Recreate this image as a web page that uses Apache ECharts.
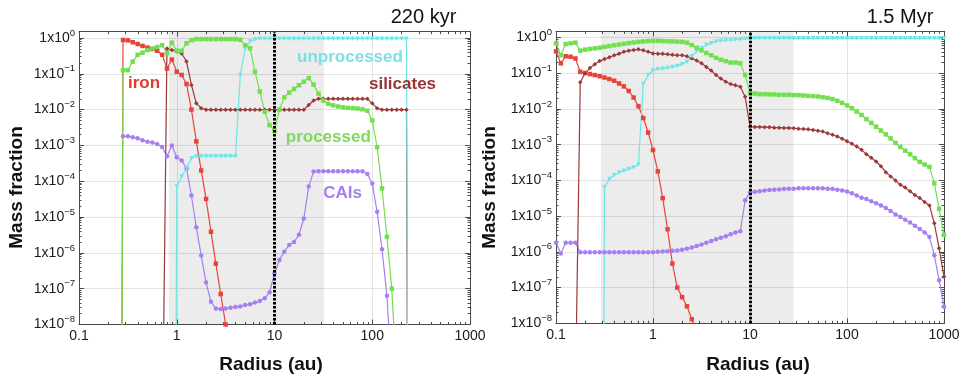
<!DOCTYPE html>
<html><head><meta charset="utf-8">
<script src="https://cdn.jsdelivr.net/npm/echarts@6/dist/echarts.min.js"></script>
<style>html,body{margin:0;padding:0;background:#fff}#c{width:963px;height:380px}</style>
</head><body><div id="c"></div>
<script>
// ---------------- LEFT PANEL (220 kyr) ----------------
const radiusL = [0.2512,0.2818,0.3162,0.3548,0.3981,0.4467,0.5012,0.5623,0.6310,0.7079,0.7943,0.8913,
 1.000,1.122,1.259,1.413,1.585,1.778,1.995,2.239,2.512,2.818,3.162,3.548,3.981,4.467,5.012,5.623,6.310,7.079,7.943,8.913,
 10.00,11.22,12.59,14.13,15.85,17.78,19.95,22.39,25.12,28.18,31.62,35.48,39.81,44.67,50.12,56.23,63.10,70.79,79.43,89.13,
 100.0,112.2,125.9,141.3,158.5,177.8,199.5,223.9,251.2,281.8];

const ironL = [1e-40,
 0.88,0.86,0.76,0.68,0.60,0.54,0.49,0.44,0.34,0.14,
 0.25,0.115,0.093,0.052,0.010,1.3e-3,2.0e-4,3.2e-5,3.9e-6,5.0e-7,
 7.1e-8,1.0e-8,1.3e-9];

const silicatesL = [null,null,null,null,null,null,null,null,null,
 1e-12,
 0.51,0.46,0.42,0.37,0.22,0.049,0.015,0.011,
 0.010,0.010,0.010,0.010,0.010,0.010,0.010,
 0.010,0.010,0.010,0.010,0.010,0.010,0.010,
 0.010,0.010,0.010,0.010,0.010,0.010,0.010,
 0.0135,0.018,
 0.020,0.020,0.020,0.020,0.020,0.020,0.020,0.020,0.020,0.020,0.020,
 0.015,0.011,
 0.010,0.010,0.010,0.010,0.010,0.010,
 1e-40];

const processedL = [1e-40,
 0.126,0.126,0.22,0.34,0.39,0.46,0.51,0.56,0.63,0.38,
 0.74,0.44,0.44,0.71,0.87,0.93,0.93,0.93,0.93,0.93,
 0.93,0.93,0.93,0.93,0.89,0.63,0.52,0.115,0.032,0.0087,
 0.0037,0.0025,0.010,0.022,0.030,0.038,0.048,0.060,0.076,0.050,
 0.028,0.018,0.0145,0.0132,0.0122,0.0116,0.0112,0.0110,0.0107,0.0102,
 0.0093,0.0050,8.9e-4,6.3e-5,2.8e-6,1.0e-7,3e-10];

const caisL = [null,
 1.8e-3,1.8e-3,1.7e-3,1.6e-3,1.4e-3,1.26e-3,1.2e-3,1.1e-3,9.1e-4,5.0e-4,
 1.0e-3,4.7e-4,3.8e-4,2.3e-4,4.0e-5,5.2e-6,8.5e-7,1.5e-7,4.3e-8,2.8e-8,
 2.7e-8,2.8e-8,2.95e-8,3.1e-8,3.2e-8,3.5e-8,3.7e-8,4.1e-8,4.5e-8,5.4e-8,
 8.0e-8,2.7e-7,6.3e-7,1.07e-6,1.66e-6,2.0e-6,3.2e-6,9.1e-6,7.1e-5,1.86e-4,
 1.9e-4,1.9e-4,1.9e-4,1.9e-4,1.9e-4,1.9e-4,1.9e-4,1.9e-4,1.9e-4,1.9e-4,
 1.6e-4,8.7e-5,1.4e-5,1.26e-6,6.3e-8,3e-10];

const unprocessedL = [null,null,null,null,null,null,null,null,null,null,null,
 1e-40,
 7.1e-5,1.35e-4,2.3e-4,4.4e-4,
 5.0e-4,5.0e-4,5.0e-4,5.0e-4,5.0e-4,5.0e-4,5.0e-4,5.0e-4,5.0e-4,
 0.093,0.50,0.80,0.91,
 0.955,0.955,0.955,0.955,0.955,0.955,0.955,0.955,0.955,0.955,
 0.955,0.955,0.955,0.955,0.955,0.955,0.955,0.955,0.955,0.955,
 0.955,0.955,0.955,0.955,0.955,0.955,0.955,0.955,0.955,0.955,0.955,
 1e-40];

// ---------------- RIGHT PANEL (1.5 Myr) ----------------
const radiusR = [0.1000,0.1122,0.1259,0.1413,0.1585,0.1778,0.1995,0.2239,0.2512,0.2818,0.3162,0.3548,0.3981,0.4467,0.5012,0.5623,0.6310,0.7079,0.7943,0.8913,
 1.000,1.122,1.259,1.413,1.585,1.778,1.995,2.239,2.512,2.818,3.162,3.548,3.981,4.467,5.012,5.623,6.310,7.079,7.943,8.913,
 10.00,11.22,12.59,14.13,15.85,17.78,19.95,22.39,25.12,28.18,31.62,35.48,39.81,44.67,50.12,56.23,63.10,70.79,79.43,89.13,
 100.0,112.2,125.9,141.3,158.5,177.8,199.5,223.9,251.2,281.8,316.2,354.8,398.1,446.7,501.2,562.3,631.0,707.9,794.3,891.3,
 1000];

const ironR = [0.41,0.19,0.30,0.29,0.26,0.11,0.102,0.095,0.089,0.083,
 0.076,0.069,0.062,0.052,0.043,0.032,0.021,0.012,5.6e-3,2.2e-3,
 7.1e-4,1.8e-4,3.2e-5,4.3e-6,4.7e-7,1.0e-7,5.4e-8,3.0e-8,1.3e-8,5e-9];

const silicatesR = [null,null,null,null,1e-10,
 0.056,0.10,0.14,0.18,0.22,
 0.25,0.28,0.32,0.35,0.40,0.43,0.45,0.47,0.44,0.40,
 0.36,0.355,0.35,0.34,0.33,0.32,0.32,0.30,0.26,0.23,
 0.19,0.15,0.12,0.089,0.071,0.058,0.050,0.046,0.042,0.022,
 3.2e-3,3.16e-3,3.16e-3,3.1e-3,3.1e-3,3.0e-3,3.0e-3,2.95e-3,2.95e-3,2.9e-3,
 2.8e-3,2.75e-3,2.7e-3,2.6e-3,2.45e-3,2.35e-3,2.1e-3,1.9e-3,1.7e-3,1.48e-3,
 1.26e-3,1.07e-3,8.9e-4,7.2e-4,5.4e-4,4.3e-4,3.4e-4,2.5e-4,1.7e-4,1.3e-4,
 1.0e-4,7.6e-5,6.3e-5,5.0e-5,3.9e-5,3.2e-5,2.5e-5,2.0e-5,6.3e-6,1.26e-6,
 2.0e-7];

const processedR = [0.69,0.32,0.66,0.69,0.72,0.43,0.46,0.48,0.50,0.52,
 0.55,0.58,0.61,0.64,0.67,0.70,0.73,0.76,0.78,0.80,
 0.81,0.81,0.80,0.79,0.78,0.77,0.76,0.72,0.62,0.52,
 0.44,0.37,0.32,0.27,0.24,0.22,0.20,0.20,0.19,0.09,
 0.0275,0.027,0.026,0.026,0.0257,0.0257,0.025,0.025,0.025,0.0245,
 0.0245,0.024,0.0234,0.0229,0.0224,0.0214,0.0204,0.019,0.017,0.0148,
 0.0126,0.0105,0.0085,0.0068,0.0052,0.0041,0.0032,0.0025,0.00195,0.0015,
 0.00112,8.7e-4,6.8e-4,5.4e-4,4.2e-4,3.3e-4,2.8e-4,2.4e-4,8.3e-5,1.6e-5,
 3.0e-6];

const unprocessedR = [null,null,null,null,null,null,null,null,null,1e-40,
 6.3e-5,1.1e-4,1.4e-4,1.66e-4,1.86e-4,2.1e-4,2.3e-4,2.8e-4,0.050,0.089,
 0.12,0.13,0.135,0.14,0.15,0.16,0.18,0.21,0.30,0.41,
 0.50,0.62,0.69,0.78,0.81,0.83,0.85,0.87,0.89,0.91,
 0.955,0.955,0.955,0.955,0.955,0.955,0.955,0.955,0.955,0.955,
 0.955,0.955,0.955,0.955,0.955,0.955,0.955,0.955,0.955,0.955,
 0.955,0.955,0.955,0.955,0.955,0.955,0.955,0.955,0.955,0.955,
 0.955,0.955,0.955,0.955,0.955,0.955,0.955,0.955,0.955,0.955,
 0.955];

const caisR = [1.8e-6,9.0e-7,1.8e-6,1.8e-6,1.8e-6,9.7e-7,9.7e-7,9.7e-7,9.7e-7,9.7e-7,
 9.7e-7,9.7e-7,9.7e-7,9.7e-7,9.7e-7,9.7e-7,9.7e-7,9.7e-7,9.7e-7,9.7e-7,
 9.8e-7,1.0e-6,1.02e-6,1.04e-6,1.07e-6,1.1e-6,1.15e-6,1.23e-6,1.32e-6,1.45e-6,
 1.6e-6,1.8e-6,2.0e-6,2.25e-6,2.5e-6,2.75e-6,3.1e-6,3.5e-6,3.8e-6,2.8e-5,
 4.6e-5,4.8e-5,5.0e-5,5.2e-5,5.4e-5,5.5e-5,5.6e-5,5.75e-5,5.9e-5,5.9e-5,
 6.0e-5,6.0e-5,6.0e-5,6.0e-5,6.0e-5,6.0e-5,5.9e-5,5.75e-5,5.5e-5,5.25e-5,
 4.9e-5,4.4e-5,3.8e-5,3.3e-5,3.0e-5,2.6e-5,2.3e-5,2.0e-5,1.7e-5,1.4e-5,
 1.12e-5,9.5e-6,7.9e-6,6.6e-6,5.4e-6,4.4e-6,3.5e-6,2.6e-6,8.1e-7,1.6e-7,
 2.9e-8];

// shaded regions and divider (au)
const bandL = [0.83, 32];
const bandR = [0.29, 28];
const dividerAU = 10;

// tick labels
const xTickText = {'-1':'0.1','0':'1','1':'10','2':'100','3':'1000'};
const minorX = [0.2,0.3,0.4,0.5,0.6,0.7,0.8,0.9,2,3,4,5,6,7,8,9,20,30,40,50,60,70,80,90,200,300,400,500,600,700,800,900];
const minorY = [];
for (let d = -8; d <= -1; d++) for (let m = 2; m <= 9; m++) minorY.push(m * Math.pow(10, d));

// ---------------- chart ----------------
const FONT = '"Liberation Sans", Arial, Helvetica, sans-serif';
const FRAME = '#4a4a4a';
const COL = {iron:'#e8433a', sil:'#9c3838', proc:'#72df4e', unproc:'#6fe6e6', cai:'#a77ff0'};

function isDecade(v){ const e = Math.log10(v); return Math.abs(e - Math.round(e)) < 1e-6; }
function xfmt(v){ if (!isDecade(v)) return ''; return xTickText[String(Math.round(Math.log10(v)))] || ''; }
function yfmt(v){ if (!isDecade(v)) return ''; const e = Math.round(Math.log10(v)); return '1x10{s|' + (e < 0 ? '\u2212' + (-e) : String(Math.abs(e))) + '}'; }

function axis(dim, gi, min, max, pos, labels, minor){
  const ax = {
    type:'log', logBase:10, gridIndex:gi, min:min, max:max, position:pos,
    splitNumber: dim === 'x' ? 4 : 8,
    axisLine:{show:!minor, onZero:false, lineStyle:{color:FRAME, width:1}},
    axisTick:{show:true, inside:true, length: minor ? 2.5 : 5, lineStyle:{color:FRAME, width:1}},
    axisLabel:{show:false},
    splitLine:{show:false},
    minorTick:{show:false},
    z: 0
  };
  if (minor) ax.axisTick.customValues = minor;
  if (labels) {
    if (dim === 'x') {
      ax.axisLabel = {show:true, margin:5, fontSize:14, color:'#1a1a1a', fontFamily:FONT, formatter:xfmt, hideOverlap:false, showMinLabel:true, showMaxLabel:true};
    } else {
      ax.axisLabel = {show:true, margin:4, fontSize:14, lineHeight:20, color:'#1a1a1a', fontFamily:FONT, formatter:yfmt,
        rich:{s:{fontSize:9.5, lineHeight:10, verticalAlign:'top', color:'#1a1a1a', fontFamily:FONT}}};
    }
    ax.splitLine = {show:true, lineStyle:{color:'#e3e3e3', width:1}};
  }
  return ax;
}
function xAxesFor(gi, min, max){
  return [axis('x',gi,min,max,'bottom',true,null), axis('x',gi,min,max,'top',false,null),
          axis('x',gi,min,max,'bottom',false,minorX), axis('x',gi,min,max,'top',false,minorX)];
}
function yAxesFor(gi, min, max){
  return [axis('y',gi,min,max,'left',true,null), axis('y',gi,min,max,'right',false,null),
          axis('y',gi,min,max,'left',false,minorY), axis('y',gi,min,max,'right',false,minorY)];
}

function pairs(radius, vals){ const out = []; vals.forEach((v,i) => { if (v != null) out.push([radius[i], v]); }); return out; }
function line(name, radius, vals, color, symbol, gi, extra){
  return Object.assign({
    type:'line', name:name, data:pairs(radius, vals), xAxisIndex:gi*4, yAxisIndex:gi*4,
    symbol:symbol, symbolSize:4.5, showSymbol:true, showAllSymbol:true,
    lineStyle:{color:color, width:1.2}, itemStyle:{color:color, borderWidth:0},
    clip:true, z:2, emphasis:{disabled:true}, animation:false
  }, extra || {});
}
function band(gi, b){
  return {type:'line', data:[], xAxisIndex:gi*4, yAxisIndex:gi*4, silent:true, z:1,
    markArea:{silent:true, itemStyle:{color:'rgba(0,0,0,0.075)'}, data:[[{xAxis:b[0]},{xAxis:b[1]}]]}};
}
function divider(gi){
  return {type:'line', data:[], xAxisIndex:gi*4, yAxisIndex:gi*4, silent:true, z:10,
    markLine:{silent:true, symbol:['none','none'], label:{show:false}, animation:false,
      lineStyle:{color:'#000', width:3, type:[2.5,1.5]}, data:[{xAxis:dividerAU}]}};
}
function seriesFor(gi, R, iron, sil, proc, unproc, cai){
  return [
    band(gi, gi === 0 ? bandL : bandR),
    line('CAIs', R, cai, COL.cai, 'circle', gi),
    line('iron', R, iron, COL.iron, 'rect', gi),
    line('silicates', R, sil, COL.sil, 'diamond', gi),
    line('unprocessed', R, unproc, COL.unproc, 'triangle', gi, {symbolRotate:180}),
    line('processed', R, proc, COL.proc, 'rect', gi),
    divider(gi)
  ];
}

function txt(x, y, text, size, color, weight, extra){
  return Object.assign({type:'text', x:x, y:y, silent:true, z:100,
    style:{text:text, fill:color, fontSize:size, fontWeight:weight, fontFamily:FONT, align:'center', verticalAlign:'middle'}}, extra || {});
}

const option = {
  animation:false,
  backgroundColor:'#ffffff',
  grid:[
    {left:79, top:31.7, width:391, height:292.8},
    {left:556, top:31.3, width:388, height:292}
  ],
  xAxis: xAxesFor(0, 0.1, 1000).concat(xAxesFor(1, 0.1, 1000)),
  yAxis: yAxesFor(0, 1e-8, 1.5).concat(yAxesFor(1, 1e-8, 1.5)),
  series: seriesFor(0, radiusL, ironL, silicatesL, processedL, unprocessedL, caisL)
    .concat(seriesFor(1, radiusR, ironR, silicatesR, processedR, unprocessedR, caisR)),
  graphic:[
    txt(423.5, 17, '220 kyr', 20, '#111', 'normal'),
    txt(900, 17, '1.5 Myr', 20, '#111', 'normal'),
    txt(16.5, 187.5, 'Mass fraction', 19, '#111', 'bold', {rotation:Math.PI/2}),
    txt(490, 187.5, 'Mass fraction', 19, '#111', 'bold', {rotation:Math.PI/2}),
    txt(271, 365, 'Radius (au)', 19, '#111', 'bold'),
    txt(758, 365, 'Radius (au)', 19, '#111', 'bold'),
    txt(144, 83, 'iron', 17, '#e23a2c', 'bold'),
    txt(350, 57.5, 'unprocessed', 17, '#7fe0e0', 'bold'),
    txt(402.5, 84, 'silicates', 17, '#9a3434', 'bold'),
    txt(328.3, 137, 'processed', 17, '#80d85c', 'bold'),
    txt(342.5, 193.5, 'CAIs', 17, '#a57ef0', 'bold')
  ]
};
const chart = echarts.init(document.getElementById('c'), null, {renderer:'canvas'});
chart.setOption(option);
</script>
</body></html>
